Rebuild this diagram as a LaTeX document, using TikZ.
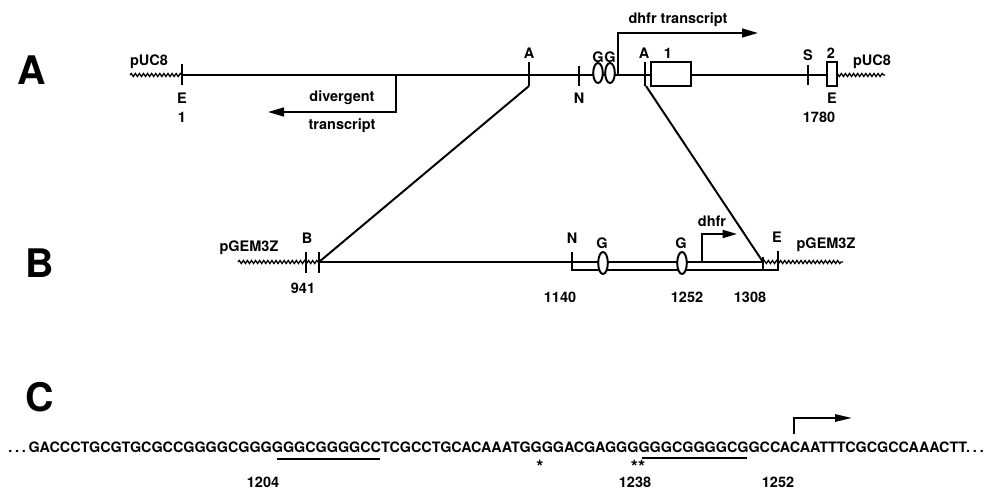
\documentclass[tikz,border=0pt]{standalone}
\usepackage{fontspec}
\setmainfont{TeX Gyre Heros}
\usetikzlibrary{positioning,arrows.meta,decorations.pathmorphing,shapes.geometric}
\tikzset{lbl/.style={font=\bfseries\fontsize{10.3}{12}\selectfont,inner sep=0pt},
         panel/.style={font=\bfseries\fontsize{28}{30}\selectfont,inner sep=0pt},
         seq/.style={font=\bfseries\fontsize{10.2}{12}\selectfont,inner sep=0pt},
         star/.style={font=\bfseries\fontsize{13}{14}\selectfont,inner sep=0pt},
         dna/.style={line width=1.4pt},
         vec/.style={line width=0.9pt,decorate,decoration={snake,segment length=2.9pt,amplitude=1.1pt}},
         site/.style={ellipse,draw,line width=1.4pt,fill=white,minimum width=0.24cm,minimum height=0.5cm,inner sep=0pt},
         exon/.style={draw,line width=1.4pt,fill=white},
         line/.style={line width=1.4pt,-{Triangle[length=0.4cm,width=0.22cm]}}
}
\newcommand{\seqdots}{.\kern2pt.\kern2pt.\kern2pt}
\begin{document}
\begin{tikzpicture}[x=0.025cm,y=-0.025cm]
\useasboundingbox (0,0) rectangle (999,490);

\node[panel] (pa) at (32,70) {A};
\node[panel] (pb) at (40,263) {B};
\node[panel] (pc) at (40,397) {C};

% A: pUC8 clone
\coordinate (avl) at (130,75);
\coordinate (ae1) at (182,75);
\coordinate (adv) at (396,75);
\coordinate (aa1) at (529,75);
\coordinate (aa1b) at (529,86);
\coordinate (an) at (579,75);
\coordinate (atx) at (618,75);
\coordinate (aa2) at (645,75);
\coordinate (aa2b) at (646,86);
\coordinate (as) at (808,75);
\coordinate (aend) at (828,75);
\coordinate (ae2) at (836,75);
\coordinate (avr) at (885,75);
\coordinate (advt) at (268,112);
\coordinate (atxt) at (758,33);

\draw[vec] (avl) -- (ae1);
\draw[dna] (ae1) -- (aend);
\draw[vec] (ae2) -- (avr);
\draw[dna] (ae1) ++(0,-11) -- ++(0,21);
\draw[dna] (aa1) ++(0,-13) -- (aa1b);
\draw[dna] (an) ++(0,-9) -- ++(0,20);
\draw[dna] (aa2) ++(0,-13) -- ++(0,24);
\draw[dna] (as) ++(0,-10) -- ++(0,20);
\node[exon,minimum width=1cm,minimum height=0.6cm] (ex1) at (671,74) {};
\node[exon,minimum width=0.2cm,minimum height=0.6cm] (ex2) at (832,74) {};
\node[site] (ag1) at (598,73) {};
\node[site] (ag2) at (610,73) {};
\draw[line] (adv) |- (advt);
\draw[line] (atx) |- (atxt);

\node[lbl] (pucl) at (149,62) {pUC8};
\node[lbl] (pucr) at (872,62) {pUC8};
\node[lbl] (le1) at (182,98) {E};
\node[lbl,below=0.22cm of le1] (n1) {1};
\node[lbl] (la1) at (529,53) {A};
\node[lbl] (ln) at (579,98) {N};
\node[lbl] (lg1) at (598,57) {G};
\node[lbl] (lg2) at (610,57) {G};
\node[lbl] (la2) at (644,53) {A};
\node[lbl] (lx1) at (668,53) {1};
\node[lbl] (ls) at (808,55) {S};
\node[lbl] (lx2) at (831,53) {2};
\node[lbl] (le2) at (832,98) {E};
\node[lbl] (n1780) at (819,117) {1780};
\node[lbl] (ldv) at (342,98) {divergent};
\node[lbl] (ldv2) at (342,126) {transcript};
\node[lbl] (ltx) at (678,20) {dhfr transcript};

% B: pGEM3Z subclone
\coordinate (bvl) at (238,262);
\coordinate (bb) at (306,262);
\coordinate (bj) at (319,262);
\coordinate (bn) at (572,262);
\coordinate (btx) at (702,262);
\coordinate (bj2) at (763,262);
\coordinate (be) at (778,251);
\coordinate (bvr) at (843,262);
\coordinate (btxt) at (737,234);

\draw[vec] (bvl) -- (bj);
\draw[dna] (bj) -- (bj2);
\draw[vec] (bj2) -- (bvr);
\draw[dna] (bb) ++(0,-10) -- ++(0,21);
\draw[dna] (bj) ++(0,-10) -- ++(0,21);
\draw[dna] (bj2) ++(0,-5) -- ++(0,13);
\draw[dna] (bn) ++(0,-10) -- ++(0,18) -| (be);
\node[site,minimum height=0.55cm] (bg1) at (603,263) {};
\node[site,minimum height=0.55cm] (bg2) at (682,263) {};
\draw[line,-{Triangle[length=0.36cm,width=0.2cm]}] (btx) |- (btxt);

\draw[dna] (aa1b) -- (bj);
\draw[dna] (aa2b) -- (bj2);

\node[lbl] (pgl) at (249,248) {pGEM3Z};
\node[lbl] (pgr) at (826,245) {pGEM3Z};
\node[lbl] (lb) at (307,238) {B};
\node[lbl] (n941) at (303,288) {941};
\node[lbl] (lbn) at (572,238) {N};
\node[lbl] (lbg1) at (602,243) {G};
\node[lbl] (lbg2) at (681,243) {G};
\node[lbl] (lbe) at (777,237) {E};
\node[lbl] (ldh) at (712,221) {dhfr};
\node[lbl] (n1140) at (560,297) {1140};
\node[lbl] (n1252) at (687,297) {1252};
\node[lbl] (n1308) at (750,297) {1308};

% C: sequence
\node[seq,anchor=west] (sq) at (8,447) {\seqdots GACCCTGCGTGCGCCGGGGCGGGGGGCGGGGCCTCGCCTGCACAAATGGGGACGAGGGGGGCGGGGCGGCCACAATTTCGCGCCAAACTT\seqdots};
\coordinate (ctx) at (794,434);
\coordinate (ctxt) at (852,418);
\draw[line,-{Triangle[length=0.42cm,width=0.18cm]}] (ctx) |- (ctxt);
\draw[dna] (277,459) -- (380,459);
\draw[dna] (642,458) -- (747,458);
\node[star] (st1) at (540,467) {*};
\node[star] (st2) at (638,467) {**};
\node[lbl] (n1204) at (263,482) {1204};
\node[lbl] (n1238) at (635,482) {1238};
\node[lbl] (n1252c) at (778,482) {1252};

\end{tikzpicture}
\end{document}
